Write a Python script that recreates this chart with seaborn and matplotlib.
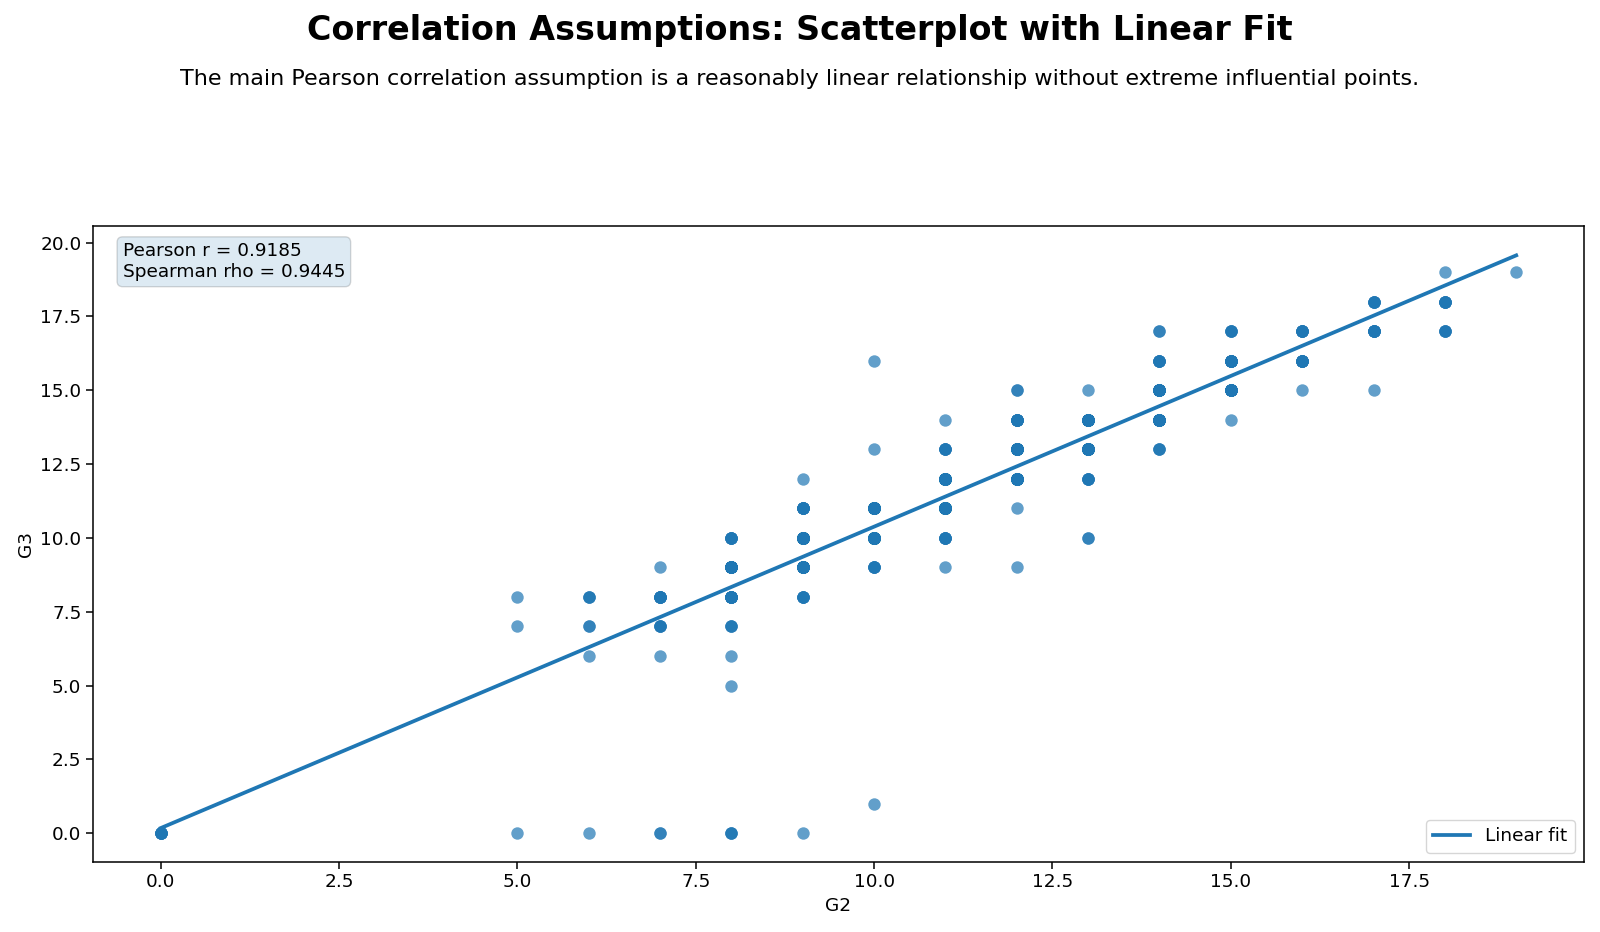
import numpy as np
import pandas as pd
import matplotlib
matplotlib.use("Agg")
import matplotlib.pyplot as plt
import seaborn as sns

# --- DATA (counts per grid cell are estimates) ---
g2_vals = [0,
           5, 5, 5,
           6, 6, 6, 6,
           7, 7, 7, 7, 7,
           8, 8, 8, 8, 8, 8, 8,
           9, 9, 9, 9, 9, 9,
           10, 10, 10, 10, 10, 10,
           11, 11, 11, 11, 11, 11,
           12, 12, 12, 12, 12, 12,
           13, 13, 13, 13, 13,
           14, 14, 14, 14, 14,
           15, 15, 15, 15,
           16, 16, 16,
           17, 17, 17,
           18, 18, 18,
           19]
g3_vals = [0,
           0, 7, 8,
           0, 6, 7, 8,
           0, 6, 7, 8, 9,
           0, 5, 6, 7, 8, 9, 10,
           0, 8, 9, 10, 11, 12,
           1, 9, 10, 11, 13, 16,
           9, 10, 11, 12, 13, 14,
           9, 11, 12, 13, 14, 15,
           10, 12, 13, 14, 15,
           13, 14, 15, 16, 17,
           14, 15, 16, 17,
           15, 16, 17,
           15, 17, 18,
           17, 18, 19,
           19]
counts = [7,
          1, 1, 1,
          1, 1, 2, 3,
          2, 1, 4, 8, 1,
          3, 1, 1, 3, 12, 20, 6,
          1, 5, 28, 45, 9, 1,
          1, 5, 50, 40, 1, 1,
          1, 6, 50, 40, 5, 1,
          1, 1, 34, 34, 10, 2,
          2, 5, 32, 28, 1,
          3, 22, 18, 6, 2,
          1, 15, 12, 4,
          1, 10, 7,
          1, 8, 5,
          4, 6, 1,
          1]

title = "Correlation Assumptions: Scatterplot with Linear Fit"
subtitle = ("The main Pearson correlation assumption is a reasonably linear "
            "relationship without extreme influential points.")
stats_text = "Pearson r = 0.9185\nSpearman rho = 0.9445"

# expand the grid cells into one row per student
df = pd.DataFrame({
    "G2": np.repeat(g2_vals, counts),
    "G3": np.repeat(g3_vals, counts),
})

fig = plt.figure(figsize=(16, 9.32), dpi=100)
ax = fig.add_axes([0.058, 0.075, 0.932, 0.682])

sns.scatterplot(data=df, x="G2", y="G3", ax=ax, color="#1f77b4",
                alpha=0.7, s=80, linewidth=0, edgecolor="face")

# least squares fit over the observed G2 range
slope, intercept = np.polyfit(df["G2"], df["G3"], 1)
x_line = np.linspace(df["G2"].min(), df["G2"].max(), 100)
ax.plot(x_line, slope * x_line + intercept, color="#1f77b4",
        linewidth=2.7, label="Linear fit")

ax.text(0.02, 0.975, stats_text, transform=ax.transAxes, va="top", ha="left",
        fontsize=13.3, bbox=dict(boxstyle="round", alpha=0.15))

ax.set_xlabel("G2", fontsize=13.3)
ax.set_ylabel("G3", fontsize=13.3)
ax.tick_params(labelsize=13.3, length=4.7, width=1.1)
for sp in ax.spines.values():
    sp.set_linewidth(1.1)
ax.legend(loc="lower right", fontsize=13.3)

fig.text(0.5, 0.967, title, ha="center", va="center",
         fontsize=24, fontweight="bold")
fig.text(0.5, 0.915, subtitle, ha="center", va="center", fontsize=16)

fig.savefig("out.png", dpi=100)
plt.close(fig)
